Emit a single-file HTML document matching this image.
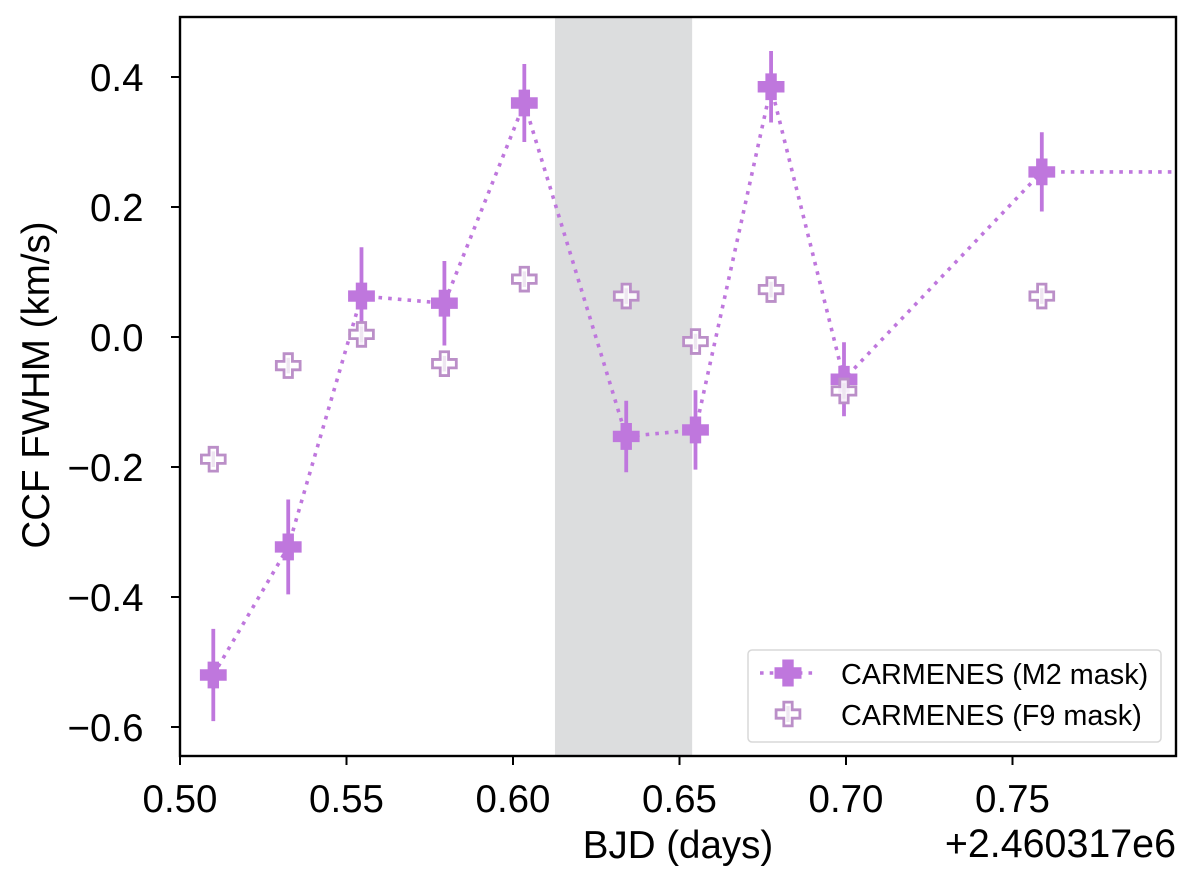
<!DOCTYPE html>
<html>
<head>
<meta charset="utf-8">
<title>CCF FWHM chart</title>
<style>
html,body{margin:0;padding:0;background:#fff;}
svg{display:block;font-family:"Liberation Sans",Arimo,Helvetica,sans-serif;}
</style>
</head>
<body>
<svg id="chart" xmlns="http://www.w3.org/2000/svg" width="1200" height="870" viewBox="0 0 1200 870"></svg>
<script>
const xTicks = [0.50, 0.55, 0.60, 0.65, 0.70, 0.75];
const xTickLabels = ["0.50", "0.55", "0.60", "0.65", "0.70", "0.75"];
const yTicks = [0.4, 0.2, 0.0, -0.2, -0.4, -0.6];
const yTickLabels = ["0.4", "0.2", "0.0", "\u22120.2", "\u22120.4", "\u22120.6"];
const times = [0.5100, 0.5325, 0.5545, 0.5794, 0.6034, 0.6340, 0.6548, 0.6775, 0.6994, 0.7588];
const m2Values = [-0.520, -0.323, 0.063, 0.052, 0.360, -0.153, -0.143, 0.385, -0.065, 0.254];
const m2Errors = [0.071, 0.073, 0.075, 0.065, 0.060, 0.055, 0.061, 0.055, 0.057, 0.061];
const f9Values = [-0.188, -0.044, 0.004, -0.041, 0.089, 0.063, -0.007, 0.073, -0.083, 0.063];
const f9Errors = [0.012, 0.012, 0.012, 0.012, 0.012, 0.012, 0.012, 0.012, 0.012, 0.012];
const lineTailX = [0.85];
const lineTailY = [0.254];
const shadedBand = [0.6126, 0.6538];

const svg = document.getElementById('chart');
const NS = 'http://www.w3.org/2000/svg';
const LEFT = 180, RIGHT = 1176, TOP = 17, BOTTOM = 756;
const M2 = '#bf77dd', F9 = '#bb8fc8';
const FS = 38.5, LFS = 28.8;
function sx(v){ return 180 + (v - 0.50) * 3330; }
function sy(v){ return 337 - v * 650; }
function mk(tag, attrs, parent){
  const e = document.createElementNS(NS, tag);
  for (const k in attrs) e.setAttribute(k, attrs[k]);
  (parent || svg).appendChild(e);
  return e;
}
function plusPath(cx, cy, half, arm){
  const a = half, b = arm;
  return 'M' + (cx-b) + ' ' + (cy-a) + 'H' + (cx+b) + 'V' + (cy-b) + 'H' + (cx+a) + 'V' + (cy+b) +
         'H' + (cx+b) + 'V' + (cy+a) + 'H' + (cx-b) + 'V' + (cy+b) + 'H' + (cx-a) + 'V' + (cy-b) + 'H' + (cx-b) + 'Z';
}

const defs = mk('defs', {});
const clip = mk('clipPath', {id: 'plot-clip'}, defs);
mk('rect', {x: LEFT, y: TOP, width: RIGHT - LEFT, height: BOTTOM - TOP}, clip);

const plot = mk('g', {'clip-path': 'url(#plot-clip)'});



const band = mk('rect', {x: sx(shadedBand[0]), y: TOP, width: sx(shadedBand[1]) - sx(shadedBand[0]), height: BOTTOM - TOP, fill: '#dcddde'}, plot);



const linePts = times.map((t, i) => sx(t) + ',' + sy(m2Values[i]));
linePts.push(sx(lineTailX[0]) + ',' + sy(lineTailY[0]));
const line = mk('polyline', {points: linePts.join(' '), fill: 'none', stroke: M2, 'stroke-width': 3.6, 'stroke-dasharray': '3.6 6.1'}, plot);



times.forEach((t, i) => {
  const x = sx(t), y = sy(m2Values[i]);
  const err = mk('line', {x1: x, x2: x, y1: sy(m2Values[i] + m2Errors[i]), y2: sy(m2Values[i] - m2Errors[i]), stroke: M2, 'stroke-width': 3.8}, plot);
  
  
  const p = mk('path', {d: plusPath(x, y, 13.4, 5.7), fill: M2}, plot);
  
  
});
times.forEach((t, i) => {
  const x = sx(t), y = sy(f9Values[i]);
  const p = mk('path', {d: plusPath(x, y, 11.9, 4.2), fill: 'rgba(255,255,255,0.88)', stroke: F9, 'stroke-width': 2.8}, plot);
  
  
  const err = mk('line', {x1: x, x2: x, y1: sy(f9Values[i] + f9Errors[i]), y2: sy(f9Values[i] - f9Errors[i]), stroke: '#eee6f1', 'stroke-width': 3.4}, plot);
  
  
});

const frame = mk('rect', {x: LEFT, y: TOP, width: RIGHT - LEFT, height: BOTTOM - TOP, fill: 'none', stroke: '#000', 'stroke-width': 2.4});



xTicks.forEach((v, i) => {
  const x = sx(v);
  const tk = mk('line', {x1: x, x2: x, y1: BOTTOM, y2: BOTTOM + 9, stroke: '#000', 'stroke-width': 2});
  
  
  const lb = mk('text', {x: x, y: 812, 'text-anchor': 'middle', 'font-size': FS, fill: '#000'});
  lb.textContent = xTickLabels[i];
  
  
});
yTicks.forEach((v, i) => {
  const y = sy(v);
  const tk = mk('line', {x1: LEFT - 9, x2: LEFT, y1: y, y2: y, stroke: '#000', 'stroke-width': 2});
  
  
  const lb = mk('text', {x: 143.5, y: y + 14, 'text-anchor': 'end', 'font-size': FS, fill: '#000'});
  lb.textContent = yTickLabels[i];
  
  
});

const xTitle = mk('text', {x: 678, y: 858, 'text-anchor': 'middle', 'font-size': FS, fill: '#000'});
xTitle.textContent = 'BJD (days)';



const offset = mk('text', {x: 1176, y: 857, 'text-anchor': 'end', 'font-size': 39.4, fill: '#000'});
offset.textContent = '+2.460317e6';



const yTitle = mk('text', {x: 0, y: 0, 'text-anchor': 'middle', 'font-size': FS, fill: '#000', transform: 'translate(49 385) rotate(-90)'});
yTitle.textContent = 'CCF FWHM (km/s)';



const legend = mk('g', {});


const box = mk('rect', {x: 748, y: 650, width: 413, height: 92, rx: 4, fill: 'rgba(255,255,255,0.9)', stroke: '#d8d8d8', 'stroke-width': 1.5}, legend);



const lgLine = mk('line', {x1: 760, x2: 818, y1: 673, y2: 673, stroke: M2, 'stroke-width': 3.6, 'stroke-dasharray': '3.6 6.1'}, legend);


const lgM2 = mk('path', {d: plusPath(788, 673, 13.5, 5.7), fill: M2}, legend);


const lgM2T = mk('text', {x: 841, y: 684, 'font-size': LFS, fill: '#000'}, legend);
lgM2T.textContent = 'CARMENES (M2 mask)';



const lgF9 = mk('path', {d: plusPath(788, 714, 11.9, 4.2), fill: 'rgba(255,255,255,0.88)', stroke: F9, 'stroke-width': 2.8}, legend);


const lgF9Bar = mk('line', {x1: 788, x2: 788, y1: 706, y2: 722, stroke: '#eee6f1', 'stroke-width': 3.4}, legend);


const lgF9T = mk('text', {x: 841, y: 725, 'font-size': LFS, fill: '#000'}, legend);
lgF9T.textContent = 'CARMENES (F9 mask)';


</script>
</body>
</html>
